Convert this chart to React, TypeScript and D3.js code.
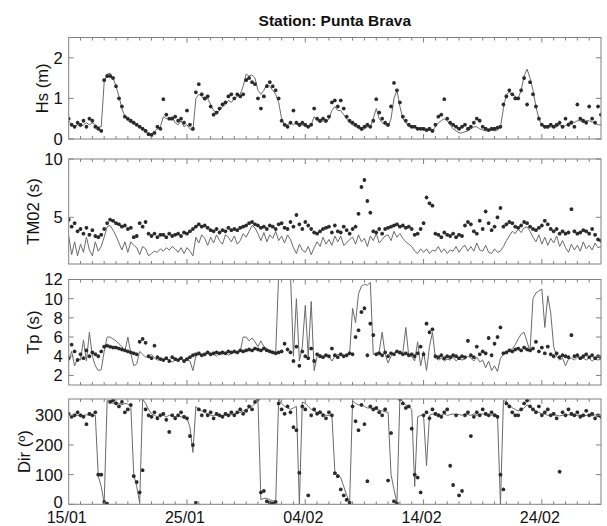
import React from 'react';
import * as d3 from 'd3';

// time axis: days since 15/01 00:00, 6-hourly samples
const STEP = 0.25;
const xDomain = [0, 45];
const majorDays = [0, 10, 20, 30, 40];
const dayLabels = ['15/01', '25/01', '04/02', '14/02', '24/02'];

const hsModel = [
  0.45,0.35,0.3,0.35, 0.3,0.35,0.4,0.35, 0.4,0.35,0.3,0.3, 1.4,1.6,1.62,1.5,
  1.3,1.05,0.75,0.55, 0.45,0.4,0.38,0.35, 0.3,0.25,0.18,0.12, 0.12,0.18,0.25,0.3,
  0.55,0.5,0.5,0.55, 0.4,0.35,0.45,0.3, 0.35,0.25,0.2,1.0, 1.1,1.05,0.95,1.0,
  0.85,0.7,0.65,0.7, 0.8,0.85,0.95,0.9, 1.0,1.05,1.1,1.3, 1.6,1.55,1.58,1.5,
  1.2,1.1,1.2,1.35, 1.3,1.2,1.1,0.9, 0.5,0.35,0.35,0.4, 0.35,0.4,0.3,0.35,
  0.3,0.3,0.35,0.55, 0.45,0.4,0.45,0.4, 0.5,0.7,0.8,0.7, 0.7,0.6,0.5,0.4,
  0.35,0.3,0.28,0.2, 0.25,0.3,0.3,0.5, 0.75,0.5,0.4,0.35, 0.3,0.5,1.0,1.2,
  0.8,0.5,0.4,0.3, 0.3,0.3,0.25,0.25, 0.22,0.2,0.22,0.2, 0.3,0.4,0.45,0.5,
  0.45,0.35,0.25,0.2, 0.15,0.15,0.18,0.2, 0.25,0.3,0.3,0.25, 0.22,0.2,0.2,0.22,
  0.2,0.22,0.3,0.75, 1.1,1.15,1.1,1.05, 1.0,1.2,1.55,1.72, 1.5,1.2,0.8,0.5,
  0.35,0.3,0.28,0.3, 0.28,0.3,0.35,0.3, 0.32,0.4,0.45,0.4, 0.45,0.45,0.4,0.45,
  0.45,0.42,0.4,0.35, 0.35,
];
const hsObs = [
  0.5,0.35,0.3,0.4, 0.35,0.45,0.3,0.5, 0.45,0.3,0.25,0.2, 1.45,1.55,1.55,1.5,
  1.3,1.0,0.8,0.55, 0.5,0.45,0.4,0.35, 0.3,0.25,0.2,0.12, 0.1,0.15,0.3,0.25,
  0.98,0.6,0.5,0.5, 0.55,0.45,0.5,0.4, 0.7,0.35,0.25,1.15, 1.35,1.1,1.0,1.05,
  0.8,0.6,0.65,0.75, 0.85,0.9,1.05,1.1, 1.0,1.1,1.05,1.1, 1.45,1.5,1.4,1.35,
  1.0,0.75,1.05,1.3, 1.4,1.3,1.2,1.0, 0.45,0.35,0.3,0.4, 0.7,0.4,0.35,0.4,
  0.35,0.3,0.35,0.75, 0.5,0.45,0.5,0.45, 0.55,0.9,0.95,0.8, 0.95,0.75,0.55,0.45,
  0.4,0.35,0.3,0.25, 0.3,0.35,0.3,0.45, 0.98,0.65,0.5,0.4, 0.35,0.8,1.38,1.2,
  0.9,0.55,0.45,0.35, 0.3,0.3,0.25,0.25, 0.25,0.22,0.25,0.2, 0.35,0.55,0.6,0.98,
  0.5,0.4,0.35,0.3, 0.25,0.3,0.35,0.25, 0.3,0.4,0.5,0.45, 0.3,0.25,0.22,0.25,
  0.25,0.28,0.3,0.85, 1.05,1.2,1.1,1.0, 1.0,1.2,1.5,0.85, 1.4,1.1,0.8,0.5,
  0.35,0.3,0.3,0.35, 0.3,0.35,0.4,0.3, 0.5,0.35,0.4,0.3, 0.85,0.5,0.45,0.4,
  0.8,0.5,0.4,0.8, 0.6,
];

const tmModel = [
  3.4,1.8,2.9,1.7, 2.7,2.0,3.3,2.2, 1.7,2.9,2.1,2.5, 3.3,4.2,4.3,3.9,
  3.4,2.8,2.2,2.9, 2.0,2.9,2.6,2.4, 1.8,2.5,2.3,1.7, 1.9,2.1,2.0,2.3,
  2.1,2.4,2.2,2.5, 2.3,2.0,2.4,1.9, 2.4,2.1,1.7,3.3, 2.8,3.5,3.2,2.6,
  3.3,2.8,3.5,3.0, 2.7,3.5,3.3,2.9, 3.4,2.7,3.0,3.6, 3.3,3.8,4.3,4.1,
  3.6,3.0,3.7,2.9, 3.5,3.2,3.8,3.0, 3.4,2.8,3.5,3.1, 2.4,1.9,2.7,2.2,
  2.0,2.5,1.8,2.4, 2.9,2.5,3.3,2.7, 3.1,2.6,3.4,2.9, 3.4,2.6,2.8,3.1,
  3.3,2.7,3.5,2.9, 3.2,2.5,3.4,3.0, 3.6,2.8,3.1,3.4, 3.5,3.0,3.8,3.3,
  3.6,3.2,2.9,2.7, 2.5,2.1,1.9,2.3, 2.0,2.3,1.9,2.2, 2.1,2.5,2.0,2.3,
  1.9,2.2,2.1,2.5, 2.0,2.4,2.6,2.1, 2.5,2.1,2.8,2.2, 2.1,2.6,2.0,1.9,
  2.3,2.0,2.1,2.5, 3.0,3.4,3.8,3.6, 4.0,3.7,4.1,4.2, 3.8,3.3,2.9,3.5,
  2.7,3.3,2.6,3.2, 2.8,3.4,2.5,3.0, 2.4,2.0,2.7,2.2, 2.6,2.1,2.9,2.3,
  2.6,2.2,2.8,2.4, 2.5,
];
const tmObs = [
  4.8,4.2,4.5,3.8, 4.0,3.6,4.1,3.5, 3.9,3.4,3.3,3.5, 4.0,4.5,4.8,4.7,
  4.5,4.4,4.2,4.3, 4.0,4.1,3.3,3.4, 4.5,4.2,4.6,3.6, 3.4,3.6,3.3,3.5,
  3.5,3.3,3.6,3.4, 3.5,3.6,3.4,3.7, 3.6,3.8,4.0,4.2, 4.4,4.2,4.3,4.1,
  3.9,3.8,4.0,3.7, 3.9,3.8,4.1,3.9, 4.0,3.9,4.1,4.2, 4.3,4.5,4.6,4.4,
  4.3,4.1,4.2,4.0, 4.3,4.2,4.0,4.4, 4.5,4.1,4.0,4.6, 4.2,5.2,4.4,4.0,
  4.6,4.3,4.0,3.7, 3.6,3.8,4.0,4.1, 4.2,3.7,4.3,3.8, 3.7,4.2,3.9,3.6,
  4.0,4.2,5.3,7.6, 8.2,6.4,5.4,3.8, 3.7,4.0,3.6,4.0, 4.1,4.2,4.3,4.4,
  4.2,4.3,4.1,4.2, 4.0,3.5,3.6,4.0, 4.5,6.7,6.2,6.0, 3.6,3.5,3.3,3.7,
  3.5,3.4,3.6,3.3, 3.5,3.4,4.3,4.6, 4.4,3.8,3.6,4.7, 4.0,5.5,4.5,3.9,
  4.2,5.0,5.8,4.2, 4.4,4.6,4.5,4.2, 4.1,4.3,4.6,4.5, 4.2,4.0,3.9,4.1,
  4.3,4.7,4.4,4.0, 3.8,4.0,3.6,3.8, 3.6,3.7,5.7,3.8, 3.6,3.7,3.9,3.8,
  3.6,4.0,3.5,3.1, 3.0,
];

const tpModel = [
  3.5,4.5,3.0,3.8, 3.6,5.7,3.5,6.5, 4.0,3.0,2.5,2.6, 4.5,6.0,6.0,5.8,
  5.6,5.3,5.0,4.5, 6.0,4.3,3.0,3.2, 4.5,4.2,3.9,4.0, 4.2,3.8,3.6,3.7,
  3.5,3.7,3.6,3.4, 3.6,3.5,3.7,3.4, 3.6,3.5,2.5,4.0, 4.2,4.0,4.1,4.3,
  4.1,4.2,4.0,4.3, 4.2,4.4,4.1,4.3, 4.4,4.3,4.5,6.0, 6.0,5.6,5.9,5.5,
  5.0,5.6,5.0,4.8, 4.6,4.5,4.4,12.5, 12.5,12.5,12.5,12.5, 4.0,10.0,3.5,5.0,
  9.3,4.0,9.7,2.5, 4.0,4.2,3.8,4.2, 4.0,3.5,4.0,4.2, 4.1,4.0,4.2,4.3,
  9.0,7.5,10.5,11.3, 11.5,11.4,11.7,4.2, 4.3,4.5,6.5,4.2, 3.3,4.0,4.3,4.5,
  4.2,4.4,7.0,4.0, 4.0,3.5,5.5,3.0, 4.5,2.5,5.0,6.5, 3.8,3.6,3.8,3.5,
  3.7,3.6,3.9,3.5, 3.8,3.6,3.7,4.0, 3.8,3.5,3.9,3.4, 3.6,2.8,3.5,2.5,
  3.0,2.4,3.8,4.2, 4.5,4.6,4.8,5.2, 5.8,6.3,6.5,5.5, 4.5,10.0,10.6,10.8,
  11.0,7.0,10.3,8.5, 5.0,4.0,3.6,3.8, 3.0,3.7,3.8,3.6, 3.9,3.7,3.8,3.6,
  3.8,3.5,3.7,3.6, 3.7,
];
const tpObs = [
  3.8,5.2,4.5,3.6, 4.2,3.8,4.6,4.0, 4.4,4.2,4.0,4.5, 5.0,5.1,5.0,4.9,
  4.9,4.8,4.7,4.6, 4.5,4.4,4.3,4.2, 5.5,5.8,5.4,4.0, 3.8,5.1,3.9,3.7,
  3.6,3.8,3.5,3.9, 3.7,3.6,3.8,3.5, 3.7,3.9,4.1,4.2, 4.3,4.1,4.2,4.4,
  4.2,4.3,4.4,4.3, 4.4,4.3,4.5,4.4, 4.5,4.4,4.6,4.5, 4.6,4.7,4.6,4.8,
  4.7,4.6,4.8,4.6, 4.5,4.4,4.3,4.4, 4.5,5.3,4.7,4.4, 3.5,5.0,3.0,4.5,
  4.0,3.8,4.8,3.5, 4.2,4.0,3.9,4.1, 4.0,4.8,4.1,3.9, 4.2,4.0,4.1,4.3,
  4.2,6.0,6.7,8.6, 9.0,4.1,7.4,6.2, 4.2,4.3,4.1,4.4, 4.0,4.3,4.2,4.5,
  4.4,4.2,4.3,4.1, 4.2,4.0,4.3,5.0, 4.2,7.4,6.5,6.8, 4.0,3.9,4.1,3.8,
  4.0,3.9,4.1,4.0, 3.8,4.0,3.9,5.6, 4.1,3.9,5.0,4.2, 4.5,4.3,5.9,4.1,
  5.3,6.0,7.0,4.3, 4.4,4.6,4.5,4.7, 4.8,4.6,4.9,4.7, 4.6,4.8,5.5,4.5,
  4.9,4.3,5.0,4.2, 4.0,4.3,3.9,4.1, 4.0,3.9,6.2,4.0, 4.1,3.8,4.0,4.2,
  3.9,4.1,3.8,4.0, 3.9,
];

const dirModel = [
  300,300,302,300, 298,300,302,300, 300,300,95,60, 5,350,345,340,
  345,340,335,340, 338,330,100,60, 5,355,340,320, 305,300,295,300,
  300,295,300,298, 295,300,295,290, 290,260,175,330, 320,315,310,305,
  300,300,300,298, 300,300,300,302, 305,308,310,315, 320,325,330,340,
  350,15,20,20, 15,12,10,355, 340,330,325,320, 325,330,0,345,
  340,330,320,315, 310,315,305,300, 300,300,110,100, 90,60,30,5,
  350,340,335,335, 330,325,325,320, 320,318,315,312, 310,100,50,5,
  358,345,335,330, 320,60,295,300, 300,130,300,305, 300,305,300,305,
  300,302,305,300, 303,300,305,302, 300,305,300,303, 305,300,302,300,
  305,300,0,350, 345,335,325,320, 315,318,325,335, 330,320,315,310,
  305,305,300,300, 302,300,298,300, 300,302,300,298, 300,302,298,300,
  300,298,302,300, 300,
];
const dirObs = [
  305,295,300,310, 300,295,270,305, 300,310,100,100, 8,2,345,350,
  340,330,345,310, 320,335,95,75, 40,115,320,300, 295,310,290,300,
  305,285,244,300, 290,300,310,295, 290,230,200,5, 320,300,315,300,
  310,290,305,300, 295,305,300,310, 300,310,320,305, 315,330,320,345,
  355,40,45,10, 5,3,8,340, 320,305,330,310, 260,250,106,330,
  320,30,300,320, 305,310,300,290, 310,300,105,95, 50,30,15,5,
  330,280,250,335, 270,78,330,320, 325,310,300,320, 80,240,10,2,
  355,340,325,330, 255,100,90,40, 300,310,290,320, 305,300,295,310,
  320,130,65,300, 30,45,300,310, 230,295,310,300, 320,305,300,310,
  300,295,100,50, 340,330,310,300, 300,320,340,350, 330,320,310,330,
  300,310,320,300, 305,290,110,310, 300,320,305,300, 310,295,300,315,
  300,305,290,300, 295,
];

const W = 607;
const H = 526;
const LEFT = 68.7;
const RIGHT = 601;
const FRAME = '#808080';
const LINE = '#6a6a6a';
const DOT = '#2a2a2a';
const FONT = '"Liberation Sans", Arial, Helvetica, sans-serif';
const FS = 16.6;
const DATE_FS = 16;

const panels = [
  { label: 'Hs (m)', top: 37.5, bottom: 139, ylim: [0, 2.5], ticks: [0, 1, 2], model: hsModel, obs: hsObs, labelX: 42 },
  { label: 'TM02 (s)', top: 159, bottom: 264, ylim: [1, 10], ticks: [5, 10], model: tmModel, obs: tmObs, labelX: 33 },
  { label: 'Tp (s)', top: 279.5, bottom: 385, ylim: [1, 12], ticks: [2, 4, 6, 8, 10, 12], model: tpModel, obs: tpObs, labelX: 33 },
  { label: 'Dir (º)', top: 399, bottom: 504.3, ylim: [0, 355], ticks: [0, 100, 200, 300], model: dirModel, obs: dirObs, labelX: 24 },
];

const x = d3.scaleLinear().domain(xDomain).range([LEFT, RIGHT]);

function starPath(px: number, py: number, r: number) {
  const d = r * 0.72;
  return `M${px - r},${py}H${px + r}M${px},${py - r}V${py + r}M${px - d},${py - d}L${px + d},${py + d}M${px - d},${py + d}L${px + d},${py - d}`;
}

function Panel({ p, idx }: { p: any; idx: number }) {
  const y = d3.scaleLinear().domain(p.ylim).range([p.bottom, p.top]);
  const line = d3.line<number>()
    .x((_, i) => x(i * STEP))
    .y((v) => y(v));
  const obsPath = p.obs.map((v: number, i: number) => starPath(x(i * STEP), y(v), 1.9)).join('');
  const minor = d3.range(1, 45);
  const clipId = `clip${idx}`;
  const isLast = idx === 3;
  return (
    <g>
      <defs>
        <clipPath id={clipId}>
          <rect x={LEFT} y={p.top} width={RIGHT - LEFT} height={p.bottom - p.top} />
        </clipPath>
      </defs>
      <g clipPath={`url(#${clipId})`}>
        <path d={line(p.model) || ''} fill="none" stroke={LINE} strokeWidth={1} />
        <path d={obsPath} fill="none" stroke={DOT} strokeWidth={1.1} />
      </g>
      <rect x={LEFT} y={p.top} width={RIGHT - LEFT} height={p.bottom - p.top} fill="none" stroke={FRAME} strokeWidth={1} />
      {minor.map((d) => {
        const len = d % 10 === 0 ? 5 : 3;
        return (
          <g key={d}>
            <line x1={x(d)} x2={x(d)} y1={p.bottom} y2={p.bottom - len} stroke={FRAME} />
            <line x1={x(d)} x2={x(d)} y1={p.top} y2={p.top + len} stroke={FRAME} />
          </g>
        );
      })}
      {p.ticks.map((t: number) => (
        <g key={t}>
          <line x1={LEFT} x2={LEFT + 5} y1={y(t)} y2={y(t)} stroke={FRAME} />
          <line x1={RIGHT} x2={RIGHT - 5} y1={y(t)} y2={y(t)} stroke={FRAME} />
          <text x={LEFT - 6} y={isLast && t === 0 ? y(t) - 2 : y(t)} dy="0.36em" textAnchor="end" fontSize={FS} fontFamily={FONT} fill="#111">{t}</text>
        </g>
      ))}
      <text
        transform={`translate(${p.labelX},${(p.top + p.bottom) / 2}) rotate(-90)`}
        textAnchor="middle" dy="0.36em" fontSize={FS} fontFamily={FONT} fill="#111"
      >{p.label}</text>
    </g>
  );
}

export default function App() {
  const last = panels[panels.length - 1];
  return (
    <svg width={W} height={H} style={{ position: 'absolute', left: 0, top: 0, background: '#fff' }}>
      <rect width={W} height={H} fill="#fff" />
      <text x={(LEFT + RIGHT) / 2} y={20} dy="0.36em" textAnchor="middle" fontSize={15.5} fontWeight="bold" fontFamily={FONT} fill="#111">
        Station: Punta Brava
      </text>
      {panels.map((p, i) => <Panel key={i} p={p} idx={i} />)}
      {majorDays.map((d, i) => (
        <text key={d} x={x(d) - 2} y={last.bottom + 12.5} dy="0.36em" textAnchor="middle" fontSize={DATE_FS} fontFamily={FONT} fill="#111">
          {dayLabels[i]}
        </text>
      ))}
    </svg>
  );
}
